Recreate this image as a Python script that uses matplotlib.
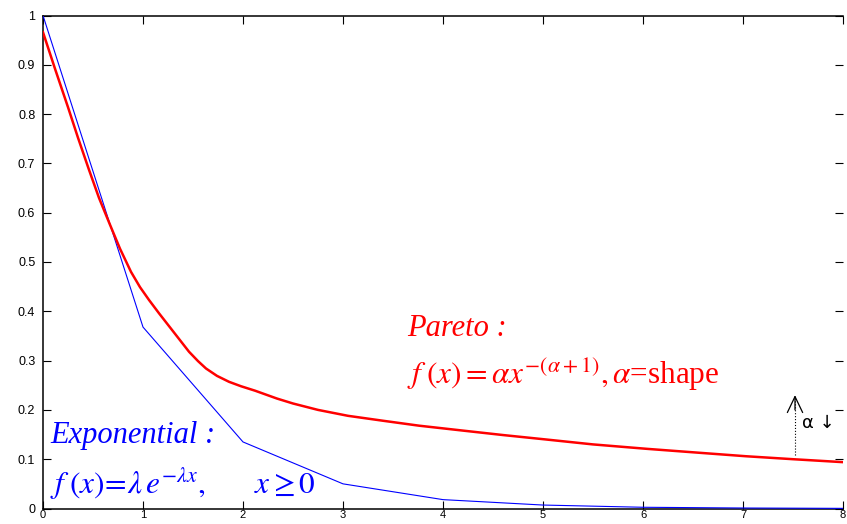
import matplotlib
matplotlib.use("Agg")
import matplotlib.pyplot as plt

plt.rcParams['mathtext.fontset'] = 'stix'
plt.rcParams['font.family'] = ['Liberation Sans', 'DejaVu Sans']

# Exponential (blue) sampled at integer x
exp_x = [0, 1, 2, 3, 4, 5, 6, 7, 8]
exp_y = [1.0, 0.368, 0.135, 0.050, 0.018, 0.007, 0.0025, 0.001, 0.0003]

# Pareto (red) values
par_x = [0, 0.12, 0.25, 0.35, 0.46, 0.56, 0.665, 0.77, 0.88, 0.97, 1.06, 1.16, 1.26,
         1.36, 1.46, 1.55, 1.63, 1.74, 1.86, 1.98, 2.12, 2.34, 2.5, 2.75, 3.05, 3.4,
         3.76, 4.2, 4.6, 5.03, 5.5, 6.04, 6.5, 7.03, 7.5, 8.0]
par_y = [0.966, 0.892, 0.814, 0.752, 0.687, 0.630, 0.578, 0.527, 0.480, 0.449, 0.423,
         0.396, 0.370, 0.344, 0.318, 0.299, 0.284, 0.269, 0.257, 0.248, 0.239, 0.223,
         0.213, 0.200, 0.188, 0.178, 0.168, 0.158, 0.149, 0.140, 0.130, 0.121, 0.114,
         0.106, 0.100, 0.094]

xticks = [0, 1, 2, 3, 4, 5, 6, 7, 8]
xticklabels = ['0', '1', '2', '3', '4', '5', '6', '7', '8']
yticks = [0, 0.1, 0.2, 0.3, 0.4, 0.5, 0.6, 0.7, 0.8, 0.9, 1.0]
yticklabels = ['0', '0.1', '0.2', '0.3', '0.4', '0.5', '0.6', '0.7', '0.8', '0.9', '1']

fig = plt.figure(figsize=(8.47, 5.24), dpi=100)
ax = fig.add_axes([43 / 847, 15.5 / 524, 800 / 847, 493 / 524])

ax.plot(exp_x, exp_y, color='#0000ff', lw=0.8, zorder=3)
ax.plot(par_x, par_y, color='#ff0000', lw=1.8, zorder=4)

ax.set_xlim(0, 8)
ax.set_ylim(0, 1)
ax.set_xticks(xticks)
ax.set_xticklabels(xticklabels)
ax.set_yticks(yticks)
ax.set_yticklabels(yticklabels)
ax.tick_params(direction='in', length=5.5, width=0.8, top=True, right=True,
               labelsize=9, colors='black')
ax.tick_params(axis='x', pad=1.2, labelsize=8)
ax.tick_params(axis='y', pad=5.5)
for s in ax.spines.values():
    s.set_linewidth(1.1)
ax.spines['right'].set_visible(False)

# Annotations
ax.text(3.64, 0.35, 'Pareto :', color='#ff0000', fontsize=22, fontstyle='italic',
        family='Liberation Serif', va='baseline', ha='left')
ax.text(3.64, 0.25, r'$f\;(x) = \alpha x^{-(\alpha+1)}, \alpha$=shape',
        color='#ff0000', fontsize=22.5, family='Liberation Serif',
        va='baseline', ha='left')
ax.text(0.07, 0.133, 'Exponential :', color='#0000ff', fontsize=22, fontstyle='italic',
        family='Liberation Serif', va='baseline', ha='left')
ax.text(0.07, 0.029, r'$f\;(x)\!=\!\lambda\, e^{-\lambda x},\qquad x \geq 0$',
        color='#0000ff', fontsize=22.5, va='baseline', ha='left')

# dotted arrow with open head
ax.plot([7.52, 7.52], [0.109, 0.226], color='black', lw=0.8, ls=':')
ax.annotate('', xy=(7.52, 0.230), xytext=(7.52, 0.20),
            arrowprops=dict(arrowstyle='->,head_length=1.15,head_width=0.55',
                            color='black', lw=0.9, shrinkA=0, shrinkB=0))
ax.text(7.59, 0.173, 'α ↓', color='black', fontsize=13, va='center', ha='left',
        family=['DejaVu Sans'])

fig.savefig('out.png', dpi=100)
